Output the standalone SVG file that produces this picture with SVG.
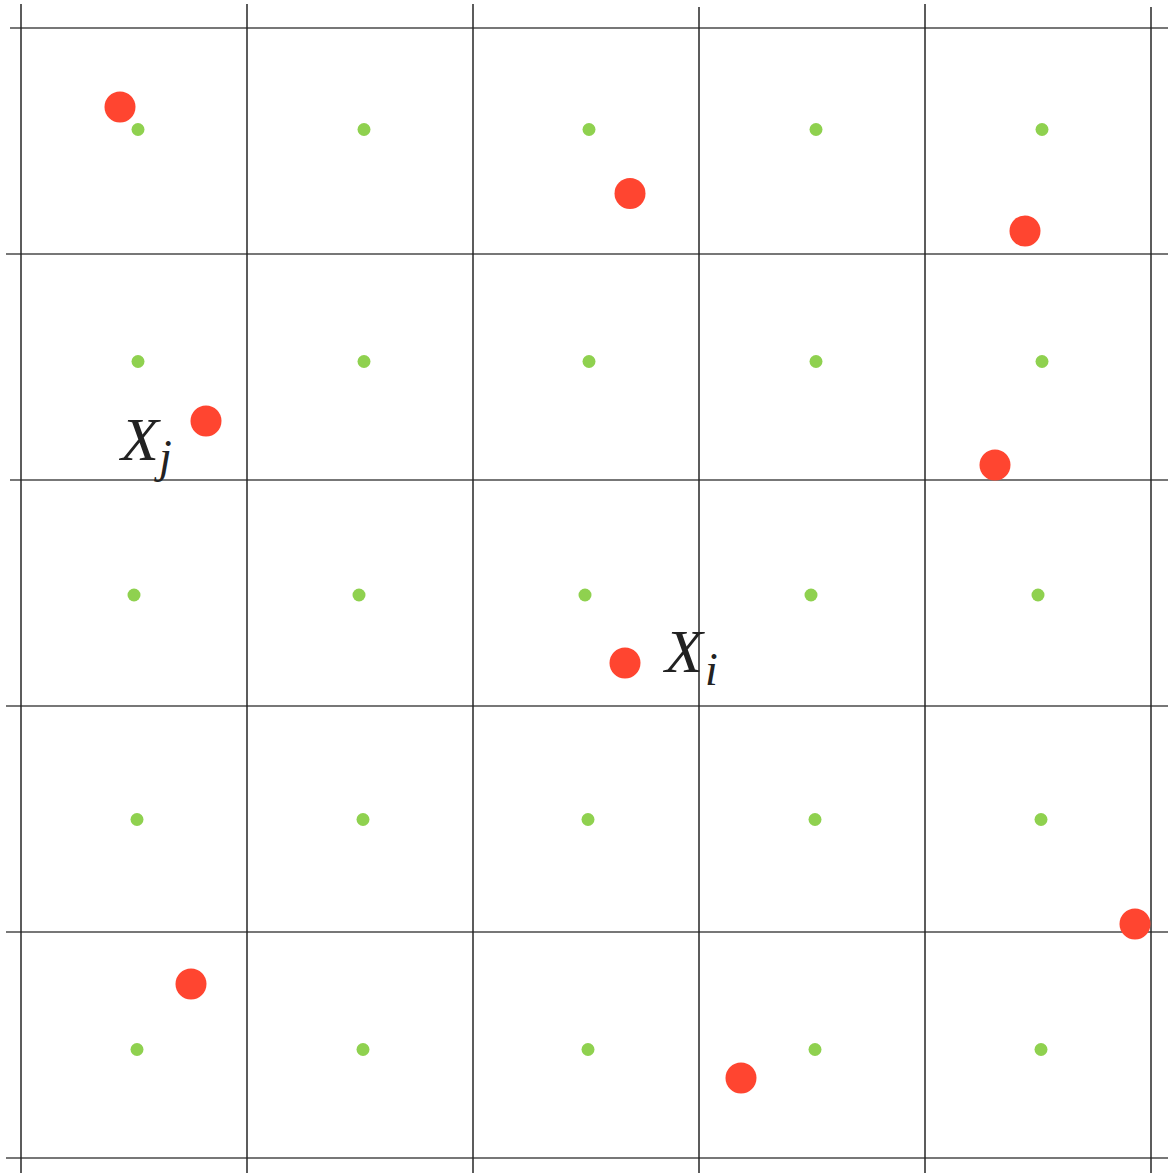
<svg xmlns="http://www.w3.org/2000/svg" width="1168" height="1173" viewBox="0 0 1168 1173">
<style>
.h{stroke:#4a4a4a;stroke-width:1.5}
.v{stroke:#262626;stroke-width:1.5}
.r{fill:#ff4530}
.g{fill:#8fd14f}
.lbl{font-family:"Liberation Serif","DejaVu Serif",serif;font-style:italic;fill:#222}
</style>
<rect width="1168" height="1173" fill="#fff"/>
<g id="connectors">
<line class="h" x1="10" y1="28" x2="1168" y2="28"/>
<line class="h" x1="6" y1="254" x2="1168" y2="254"/>
<line class="h" x1="10" y1="480" x2="1168" y2="480"/>
<line class="h" x1="6" y1="706" x2="1168" y2="706"/>
<line class="h" x1="6" y1="932" x2="1168" y2="932"/>
<line class="h" x1="6" y1="1158" x2="1168" y2="1158"/>
<line class="v" x1="21" y1="4" x2="21" y2="1173"/>
<line class="v" x1="247" y1="4" x2="247" y2="1173"/>
<line class="v" x1="473" y1="4" x2="473" y2="1173"/>
<line class="v" x1="699" y1="7" x2="699" y2="1173"/>
<line class="v" x1="925" y1="4" x2="925" y2="1173"/>
<line class="v" x1="1151" y1="7" x2="1151" y2="1173"/>
</g>
<g id="centers">
<circle class="g" cx="138" cy="129.5" r="6.5"/><circle class="g" cx="364" cy="129.5" r="6.5"/><circle class="g" cx="589" cy="129.5" r="6.5"/><circle class="g" cx="816" cy="129.5" r="6.5"/><circle class="g" cx="1042" cy="129.5" r="6.5"/>
<circle class="g" cx="138" cy="361.5" r="6.5"/><circle class="g" cx="364" cy="361.5" r="6.5"/><circle class="g" cx="589" cy="361.5" r="6.5"/><circle class="g" cx="816" cy="361.5" r="6.5"/><circle class="g" cx="1042" cy="361.5" r="6.5"/>
<circle class="g" cx="134" cy="595" r="6.5"/><circle class="g" cx="359" cy="595" r="6.5"/><circle class="g" cx="585" cy="595" r="6.5"/><circle class="g" cx="811" cy="595" r="6.5"/><circle class="g" cx="1038" cy="595" r="6.5"/>
<circle class="g" cx="137" cy="819.5" r="6.5"/><circle class="g" cx="363" cy="819.5" r="6.5"/><circle class="g" cx="588" cy="819.5" r="6.5"/><circle class="g" cx="815" cy="819.5" r="6.5"/><circle class="g" cx="1041" cy="819.5" r="6.5"/>
<circle class="g" cx="137" cy="1049.5" r="6.5"/><circle class="g" cx="363" cy="1049.5" r="6.5"/><circle class="g" cx="588" cy="1049.5" r="6.5"/><circle class="g" cx="815" cy="1049.5" r="6.5"/><circle class="g" cx="1041" cy="1049.5" r="6.5"/>
</g>
<g id="points">
<circle class="r" cx="120" cy="107" r="15.5"/>
<circle class="r" cx="630" cy="193.5" r="15.5"/>
<circle class="r" cx="1025" cy="231" r="15.5"/>
<circle class="r" cx="206" cy="421" r="15.5"/>
<circle class="r" cx="995" cy="465" r="15.5"/>
<circle class="r" cx="625" cy="663" r="15.5"/>
<circle class="r" cx="1135" cy="924" r="15.5"/>
<circle class="r" cx="191" cy="984" r="15.5"/>
<circle class="r" cx="741" cy="1078" r="15.5"/>
</g>
<g id="label-xj">
<text class="lbl" x="121" y="460" font-size="62">X</text>
<text class="lbl" x="159" y="472" font-size="46">j</text>
</g>
<g id="label-xi">
<text class="lbl" x="665" y="672" font-size="62">X</text>
<text class="lbl" x="705" y="685" font-size="46">i</text>
</g>
</svg>
